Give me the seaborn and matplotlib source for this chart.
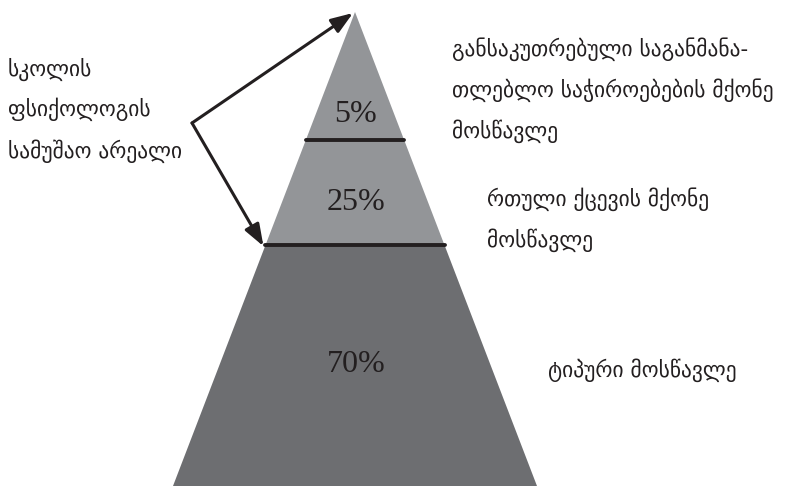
import numpy as np
import seaborn as sns
import matplotlib.pyplot as plt

# tiers from bottom to top
shares = ["70%", "25%", "5%"]
tier_tops = [0.508, 0.730, 1.0]   # relative height of each tier's top edge
tier_colors = ["#6d6e71", "#939598", "#939598"]
tier_labels = [
    "ტიპური მოსწავლე",
    "რთული ქცევის მქონე\nმოსწავლე",
    "განსაკუთრებული საგანმანა-\nთლებლო საჭიროებების მქონე\nმოსწავლე",
]
side_label = "სკოლის\nფსიქოლოგის\nსამუშაო არეალი"

sns.set_theme(style="white")
plt.rcParams["font.family"] = ["DejaVu Sans"]

fig = plt.figure(figsize=(7.96, 4.86), dpi=100)
ax = fig.add_axes([0, 0, 1, 1])
ax.set_xlim(0, 796)
ax.set_ylim(0, 486)
ax.axis("off")

# pyramid frame in pixel-like units
cx, base_y, apex_y, base_half = 355, 0, 474, 182
H = apex_y - base_y


def half_width(rel):
    return base_half * (1 - rel)


bottoms = [0.0] + tier_tops[:-1]
for lo, hi, col in zip(bottoms, tier_tops, tier_colors):
    ys = np.array([lo, lo, hi, hi])
    xs = np.array([cx - half_width(lo), cx + half_width(lo),
                   cx + half_width(hi), cx - half_width(hi)])
    ax.fill(xs, base_y + ys * H, color=col, lw=0)

# separator lines between tiers
for rel in tier_tops[:-1]:
    y = base_y + rel * H
    sns.lineplot(x=[cx - half_width(rel), cx + half_width(rel)], y=[y, y],
                 color="#231f20", lw=2.8, ax=ax)

# percentages
pct_y = [122, 284, 371]
for s, y in zip(shares, pct_y):
    ax.text(cx + 1, y, s, ha="center", va="center", fontsize=23,
            family="Liberation Serif", color="#231f20")

# tier descriptions
lab_pos = [(548, 116), (487, 266), (452, 396)]
for lab, (x, y) in zip(tier_labels, lab_pos):
    ax.text(x, y, lab, ha="left", va="center", fontsize=15.5,
            color="#231f20", linespacing=1.95)

ax.text(8, 376, side_label, ha="left", va="center", fontsize=15.5,
        color="#231f20", linespacing=1.95)

# arrows from the side label
vx, vy = 192, 363
for rel in [tier_tops[-1], tier_tops[0]]:
    tx = cx - half_width(rel) - 2
    ty = base_y + rel * H - 1
    ax.annotate("", xy=(tx, ty), xytext=(vx, vy),
                arrowprops=dict(arrowstyle="-|>,head_length=1.1,head_width=0.4",
                                color="#231f20", lw=2.2, shrinkA=0, shrinkB=0))

fig.savefig("out.png", dpi=100)
